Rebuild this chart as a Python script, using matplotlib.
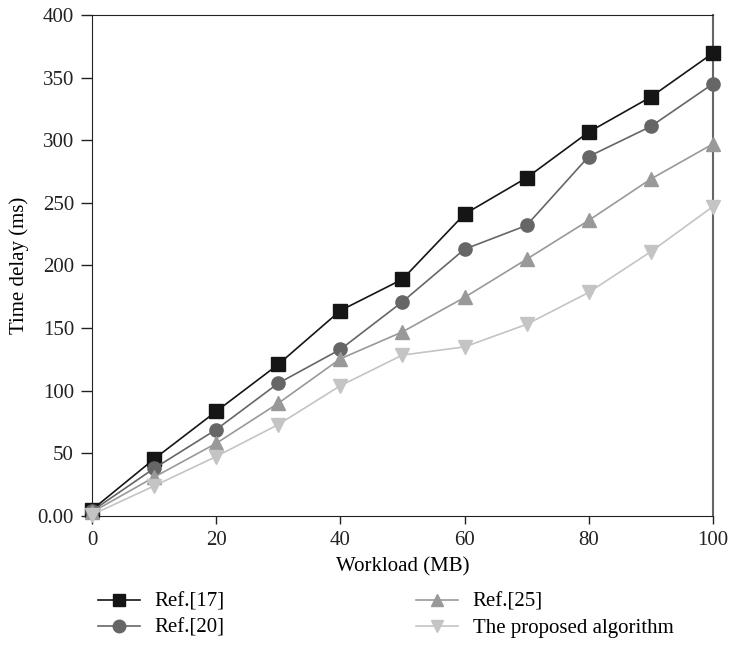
import numpy as np
import matplotlib.pyplot as plt

# -------------------------------------------
# Data
# -------------------------------------------
workload = [0, 10, 20, 30, 40, 50, 60, 70, 80, 90, 100]

ref17 = [5, 45.5, 83.5, 121, 164, 189, 241, 270, 306.5, 334.5, 369.5]
ref20 = [4, 38, 69, 106, 133, 171, 213, 232, 287, 311, 345]
ref25 = [3, 31, 58, 90, 125.5, 147, 174.5, 205, 236, 269, 297]
proposed = [1, 24, 47.5, 73, 104, 128.5, 135, 153, 178.5, 211, 247]

y_ticks = [0, 50, 100, 150, 200, 250, 300, 350, 400]
y_ticklabels = ["0.00", "50", "100", "150", "200", "250", "300", "350", "400"]
x_ticks = [0, 20, 40, 60, 80, 100]

series = [
    ("Ref.[17]", ref17, "s", "#151515"),
    ("Ref.[20]", ref20, "o", "#666666"),
    ("Ref.[25]", ref25, "^", "#999999"),
    ("The proposed algorithm", proposed, "v", "#c4c4c4"),
]

# -------------------------------------------
# Plot
# -------------------------------------------
plt.rcParams['font.family'] = ['Liberation Serif', 'DejaVu Serif']

fig = plt.figure(figsize=(7.33, 6.63), dpi=100)
ax = fig.add_axes([0.1255, 0.2217, 0.847, 0.7557])

for label, vals, mk, col in series:
    ax.plot(workload, vals, color=col, marker=mk, markersize=9.5,
            linewidth=1.2, label=label, clip_on=False, zorder=3)

ax.set_xlim(0, 100)
ax.set_ylim(0, 400)
ax.set_xticks(x_ticks)
ax.set_yticks(y_ticks)
ax.set_yticklabels(y_ticklabels)
ax.tick_params(axis='both', labelsize=15, direction='out', width=1, colors='#222222')
ax.tick_params(axis='y', length=8, pad=5)
ax.tick_params(axis='x', length=6, pad=5)

for side in ['left', 'bottom', 'top']:
    ax.spines[side].set_color('#222222')
ax.spines['right'].set_color('#666666')
ax.spines['right'].set_linewidth(1.5)

ax.set_xlabel("Workload (MB)", fontsize=15, labelpad=5)
ax.set_ylabel("Time delay (ms)", fontsize=15, labelpad=6)

ax.legend(loc='upper left', bbox_to_anchor=(-0.02, -0.115), ncol=2,
          frameon=False, fontsize=15, columnspacing=9.2, handlelength=2,
          handletextpad=0.7, labelspacing=0.3, markerscale=0.95)

plt.savefig("out.png", dpi=100)
